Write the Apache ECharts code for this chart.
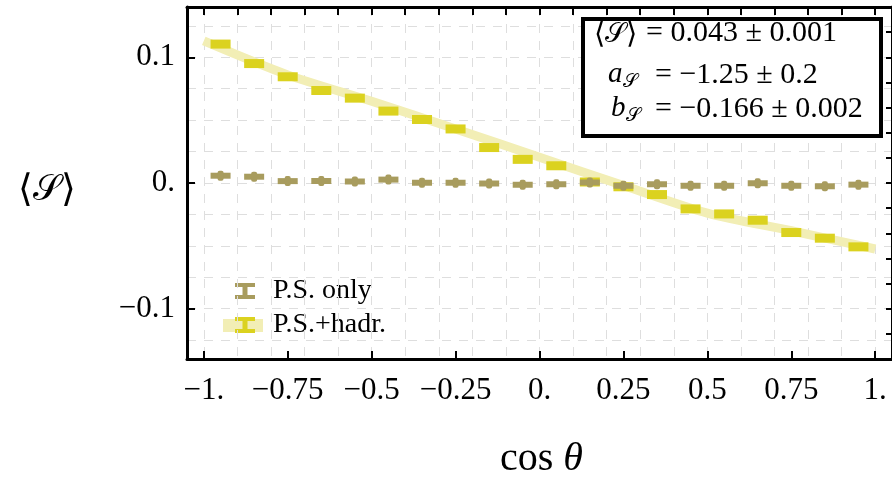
<!DOCTYPE html>
<html>
<head>
<meta charset="utf-8">
<script src="https://cdn.jsdelivr.net/npm/echarts@6/dist/echarts.min.js"></script>
<style>
html,body{margin:0;padding:0;background:#fff;}
#c{width:892px;height:479px;}
</style>
</head>
<body>
<div id="c"></div>
<script>
// ---- data ----
const binCenters = [-0.95,-0.85,-0.75,-0.65,-0.55,-0.45,-0.35,-0.25,-0.15,-0.05,
                    0.05,0.15,0.25,0.35,0.45,0.55,0.65,0.75,0.85,0.95];
const psOnly = [0.0058,0.0050,0.0015,0.0016,0.0012,0.0027,0.0002,0.0002,-0.0004,-0.0014,
                -0.0010,0.0004,-0.0022,-0.0010,-0.0022,-0.0022,-0.0002,-0.0022,-0.0026,-0.0013];
const psHadr = [0.1105,0.0950,0.0845,0.0736,0.0675,0.0572,0.0505,0.0430,0.0282,0.0188,
                0.0137,0.0008,-0.0030,-0.0092,-0.0206,-0.0246,-0.0296,-0.0394,-0.0439,-0.0508];
const fitX = [-1,-0.75,-0.5,-0.25,0,0.25,0.5,0.75,1];
const fitY = [0.113,0.086,0.065,0.043,0.0205,-0.002,-0.024,-0.038,-0.0525];
const xTickValues = [-1,-0.75,-0.5,-0.25,0,0.25,0.5,0.75,1];
const xTickLabels = ['\u22121.','\u22120.75','\u22120.5','\u22120.25','0.','0.25','0.5','0.75','1.'];
const xTopTicks = [-1,-0.9,-0.8,-0.7,-0.6,-0.5,-0.4,-0.3,-0.2,-0.1,0,0.1,0.2,0.3,0.4,0.5,0.6,0.7,0.8,0.9,1];
const yTickValues = [-0.1,0,0.1];
const yTickLabels = ['\u22120.1','0.','0.1'];
const yRightTicks = [-0.12,-0.1,-0.08,-0.06,-0.04,-0.02,0,0.02,0.04,0.06,0.08,0.1,0.12];
const yGridValues = [-0.125,-0.1,-0.075,-0.05,-0.025,0,0.025,0.05,0.075,0.1,0.125];
const legendNames = ['P.S. only','P.S.+hadr.'];
const fitSymbols = ['\u27E8\uD835\uDCAE\u27E9', 'a', 'b'];
const fitValues = ['= 0.043 \u00B1 0.001', '= \u22121.25 \u00B1 0.2', '= \u22120.166 \u00B1 0.002'];

const OLIVE = '#a89c5e', YELLOW = '#dbd21f', BAND = '#f2eeb5';
const FONT = 'Liberation Serif';

const chart = echarts.init(document.getElementById('c'), null, {renderer:'canvas'});

const dashed = {show:true, lineStyle:{color:'#dedede', width:1, type:[9,8]}};
const blackLine = {show:true, onZero:false, lineStyle:{color:'#000', width:3}};

function fmt(values, labels){ return v => { const i = values.findIndex(t => Math.abs(t - v) < 1e-9); return i >= 0 ? labels[i] : ''; }; }

const option = {
  animation:false,
  grid:{left:187, top:7, width:707, height:352, containLabel:false},
  xAxis:[
    {type:'value', position:'bottom', min:-1.05, max:1.05,
     axisLine:blackLine,
     axisTick:{show:true, inside:true, length:8, lineStyle:{color:'#000', width:2}, customValues:xTickValues},
     axisLabel:{show:true, margin:16, fontFamily:FONT, fontSize:31, color:'#000', customValues:xTickValues, formatter:fmt(xTickValues,xTickLabels)},
     splitLine:{show:false}},
    {type:'value', position:'top', min:-1.05, max:1.05,
     axisLine:blackLine,
     axisTick:{show:true, inside:true, length:8, lineStyle:{color:'#000', width:2}, customValues:xTopTicks},
     axisLabel:{show:false},
     splitLine:dashed}
  ],
  yAxis:[
    {type:'value', position:'left', min:-0.14, max:0.14,
     axisLine:blackLine,
     axisTick:{show:true, inside:true, length:8, lineStyle:{color:'#000', width:2}, customValues:yTickValues},
     axisLabel:{show:true, margin:12, fontFamily:FONT, fontSize:31, color:'#000', customValues:yTickValues, formatter:fmt(yTickValues,yTickLabels)},
     splitLine:{show:false}},
    {type:'value', position:'right', min:-0.14, max:0.14,
     axisLine:blackLine,
     axisTick:{show:true, inside:true, length:6, lineStyle:{color:'#000', width:2}, customValues:yRightTicks},
     axisLabel:{show:false},
     splitLine:{show:false}},
    {type:'value', position:'left', min:-0.14, max:0.14,
     axisLine:{show:false},
     axisTick:{show:true, length:0, lineStyle:{color:'rgba(0,0,0,0)'}, customValues:yGridValues},
     axisLabel:{show:false},
     splitLine:dashed}
  ],
  series:[
    {name:'fit', type:'line', xAxisIndex:0, yAxisIndex:0, smooth:0.3, symbol:'none',
     data:fitX.map((x,i)=>[x,fitY[i]]), lineStyle:{color:BAND, width:9}, z:3, silent:true},
    {name:legendNames[1], type:'custom', xAxisIndex:0, yAxisIndex:0, z:4,
     data:binCenters.map((x,i)=>[x,psHadr[i]]),
     renderItem:(params, api)=>{
       const p = api.coord([api.value(0), api.value(1)]);
       return {type:'rect', shape:{x:p[0]-10, y:p[1]-4.5, width:20, height:9}, style:{fill:YELLOW}};
     }},
    {name:legendNames[0], type:'custom', xAxisIndex:0, yAxisIndex:0, z:5,
     data:binCenters.map((x,i)=>[x,psOnly[i]]),
     renderItem:(params, api)=>{
       const p = api.coord([api.value(0), api.value(1)]);
       return {type:'group', children:[
         {type:'rect', shape:{x:p[0]-10, y:p[1]-3, width:20, height:6}, style:{fill:OLIVE}},
         {type:'rect', shape:{x:p[0]-3, y:p[1]-5, width:6, height:10, r:2}, style:{fill:OLIVE}}
       ]};
     }}
  ],
  graphic:[
    // axis titles
    {type:'text', left:18, top:172, style:{
      text:'{a|\u27E8}{s|\uD835\uDCAE}{a|\u27E9}',
      rich:{a:{fontFamily:FONT, fontSize:38, fill:'#000'}, s:{fontFamily:FONT, fontSize:36, fill:'#000'}}}},
    {type:'text', left:500, top:439, style:{
      text:'{a|cos }{b|\u03B8}',
      rich:{a:{fontFamily:FONT, fontSize:40, fill:'#000'}, b:{fontFamily:FONT, fontSize:40, fontStyle:'italic', fill:'#000'}}}},
    // legend
    {type:'rect', shape:{x:223, y:319, width:40, height:13}, style:{fill:BAND}},
    {type:'group', children:[
      {type:'rect', shape:{x:235, y:283, width:20, height:4}, style:{fill:OLIVE}},
      {type:'rect', shape:{x:235, y:295, width:20, height:4}, style:{fill:OLIVE}},
      {type:'rect', shape:{x:242.5, y:283, width:5, height:16}, style:{fill:OLIVE}},
      {type:'rect', shape:{x:235, y:317, width:20, height:4}, style:{fill:YELLOW}},
      {type:'rect', shape:{x:235, y:329, width:20, height:4}, style:{fill:YELLOW}},
      {type:'rect', shape:{x:242.5, y:317, width:5, height:16}, style:{fill:YELLOW}}
    ]},
    {type:'text', x:273, y:291, style:{text:legendNames[0], fontFamily:FONT, fontSize:28, fill:'#000', verticalAlign:'middle'}},
    {type:'text', x:273, y:325, style:{text:legendNames[1], fontFamily:FONT, fontSize:28, fill:'#000', verticalAlign:'middle'}},
    // fit result box
    {type:'rect', shape:{x:583, y:19, width:298, height:117}, style:{fill:'#fff', stroke:'#000', lineWidth:4}, z:10},
    {type:'text', x:594, y:35, z:11, style:{
      text:'{a|\u27E8}{s|\uD835\uDCAE}{a|\u27E9}', verticalAlign:'middle',
      rich:{a:{fontFamily:FONT, fontSize:29, fill:'#000'}, s:{fontFamily:FONT, fontSize:27, fill:'#000'}}}},
    {type:'text', x:646, y:33, z:11, style:{text:fitValues[0], fontFamily:FONT, fontSize:30, fill:'#000', verticalAlign:'middle'}},
    {type:'text', x:608, y:74, z:11, style:{
      text:'{i|'+fitSymbols[1]+'}{s|\uD835\uDCAE}', verticalAlign:'middle',
      rich:{i:{fontFamily:FONT, fontSize:29, fontStyle:'italic', fill:'#000', lineHeight:36},
            s:{fontFamily:FONT, fontSize:19, fill:'#000', lineHeight:19, verticalAlign:'bottom'}}}},
    {type:'text', x:655, y:75, z:11, style:{text:fitValues[1], fontFamily:FONT, fontSize:30, fill:'#000', verticalAlign:'middle'}},
    {type:'text', x:611, y:108, z:11, style:{
      text:'{i|'+fitSymbols[2]+'}{s|\uD835\uDCAE}', verticalAlign:'middle',
      rich:{i:{fontFamily:FONT, fontSize:29, fontStyle:'italic', fill:'#000', lineHeight:36},
            s:{fontFamily:FONT, fontSize:19, fill:'#000', lineHeight:19, verticalAlign:'bottom'}}}},
    {type:'text', x:655, y:109, z:11, style:{text:fitValues[2], fontFamily:FONT, fontSize:30, fill:'#000', verticalAlign:'middle'}}
  ]
};
chart.setOption(option);
</script>
</body>
</html>
